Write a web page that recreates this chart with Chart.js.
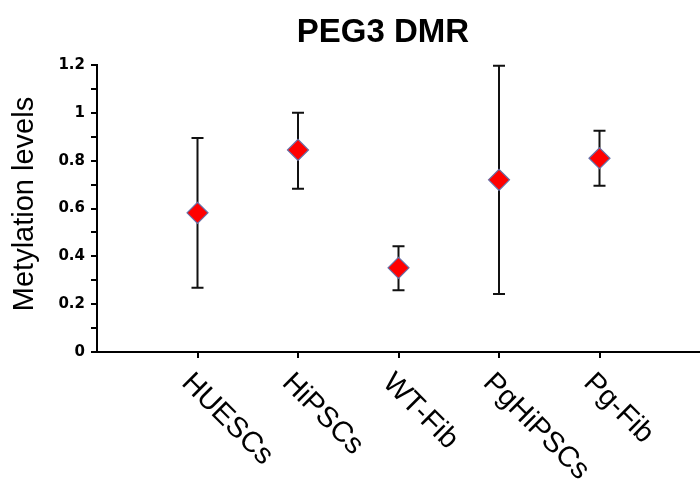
<!DOCTYPE html>
<html>
<head>
<meta charset="utf-8">
<script src="https://cdn.jsdelivr.net/npm/chart.js@4/dist/chart.umd.min.js"></script>
<style>
  html, body { margin: 0; padding: 0; background: #ffffff; }
  #wrap { width: 700px; height: 480px; position: relative; }
</style>
</head>
<body>
<div id="wrap"><canvas id="c" width="700" height="480"></canvas></div>
<script>
const chartTitle = "PEG3 DMR";
const yAxisTitle = "Metylation levels";
const categories = ["HUESCs", "HiPSCs", "WT-Fib", "PgHiPSCs", "Pg-Fib"];
const means = [0.582, 0.845, 0.352, 0.72, 0.81];
const upperErr = [0.313, 0.155, 0.090, 0.477, 0.115];
const lowerErr = [0.313, 0.162, 0.094, 0.477, 0.115];
const yTicksMajor = [0, 0.2, 0.4, 0.6, 0.8, 1, 1.2];

const points = categories.map((c, i) => ({ x: i + 1, y: means[i] }));

const errorBarPlugin = {
  id: 'errorBars',
  beforeDatasetsDraw(chart) {
    const ctx = chart.ctx;
    const xs = chart.scales.x, ys = chart.scales.y;
    ctx.save();
    ctx.strokeStyle = '#111111';
    ctx.lineWidth = 2;
    means.forEach((m, i) => {
      const px = xs.getPixelForValue(i + 1);
      const top = ys.getPixelForValue(m + upperErr[i]);
      const bot = ys.getPixelForValue(m - lowerErr[i]);
      ctx.beginPath();
      ctx.moveTo(px, top); ctx.lineTo(px, bot);
      ctx.moveTo(px - 6, top); ctx.lineTo(px + 6, top);
      ctx.moveTo(px - 6, bot); ctx.lineTo(px + 6, bot);
      ctx.stroke();
    });
    ctx.restore();
  }
};

const textPlugin = {
  id: 'texts',
  afterDraw(chart) {
    const ctx = chart.ctx;
    const xs = chart.scales.x;
    const area = chart.chartArea;
    ctx.save();
    ctx.fillStyle = '#000000';
    ctx.font = 'bold 33px "Liberation Sans", Arial, sans-serif';
    ctx.textAlign = 'center';
    ctx.textBaseline = 'alphabetic';
    ctx.fillText(chartTitle, 383, 42);
    ctx.save();
    ctx.translate(33, 204);
    ctx.rotate(-Math.PI / 2);
    ctx.font = '29px "Liberation Sans", Arial, sans-serif';
    ctx.textAlign = 'center';
    ctx.fillText(yAxisTitle, 0, 0);
    ctx.restore();
    ctx.font = '29px "Liberation Sans", Arial, sans-serif';
    ctx.textAlign = 'left';
    categories.forEach((c, i) => {
      const px = xs.getPixelForValue(i + 1);
      ctx.save();
      ctx.translate(px - 17, area.bottom + 32);
      ctx.rotate(Math.PI / 4);
      ctx.fillText(c, 0, 0);
      ctx.restore();
    });
    ctx.restore();
  }
};

new Chart(document.getElementById('c'), {
  type: 'scatter',
  data: {
    datasets: [{
      data: points,
      pointStyle: 'rectRot',
      pointRadius: 10.5,
      pointHoverRadius: 10.5,
      backgroundColor: '#FF0000',
      borderColor: '#6670A8',
      borderWidth: 1.2
    }]
  },
  options: {
    responsive: false,
    animation: false,
    events: [],
    layout: { autoPadding: false, padding: { top: 65, right: 0, bottom: 0, left: 0 } },
    plugins: {
      legend: { display: false },
      title: { display: false },
      tooltip: { enabled: false }
    },
    scales: {
      x: {
        type: 'linear',
        min: 0,
        max: 6,
        afterBuildTicks(scale) {
          scale.ticks = categories.map((c, i) => ({ value: i + 1 }));
        },
        afterFit(scale) { scale.height = 128; },
        ticks: { display: false },
        grid: {
          display: true,
          drawOnChartArea: false,
          drawTicks: true,
          tickLength: 6,
          color: '#000000',
          lineWidth: 2
        },
        border: { display: true, color: '#000000', width: 2 }
      },
      y: {
        type: 'linear',
        min: 0,
        max: 1.2,
        afterFit(scale) { scale.width = 97; },
        ticks: {
          stepSize: 0.1,
          autoSkip: false,
          padding: 6,
          color: '#000000',
          font: { family: 'DejaVu Sans', size: 15, weight: 'bold' },
          callback(v) {
            const r = Math.round(v * 10) / 10;
            return yTicksMajor.some(t => Math.abs(t - r) < 1e-6) ? String(r) : '';
          }
        },
        grid: {
          display: true,
          drawOnChartArea: false,
          drawTicks: true,
          tickLength: 6,
          color: '#000000',
          lineWidth: 2
        },
        border: { display: true, color: '#000000', width: 2 }
      }
    }
  },
  plugins: [errorBarPlugin, textPlugin]
});
</script>
</body>
</html>
